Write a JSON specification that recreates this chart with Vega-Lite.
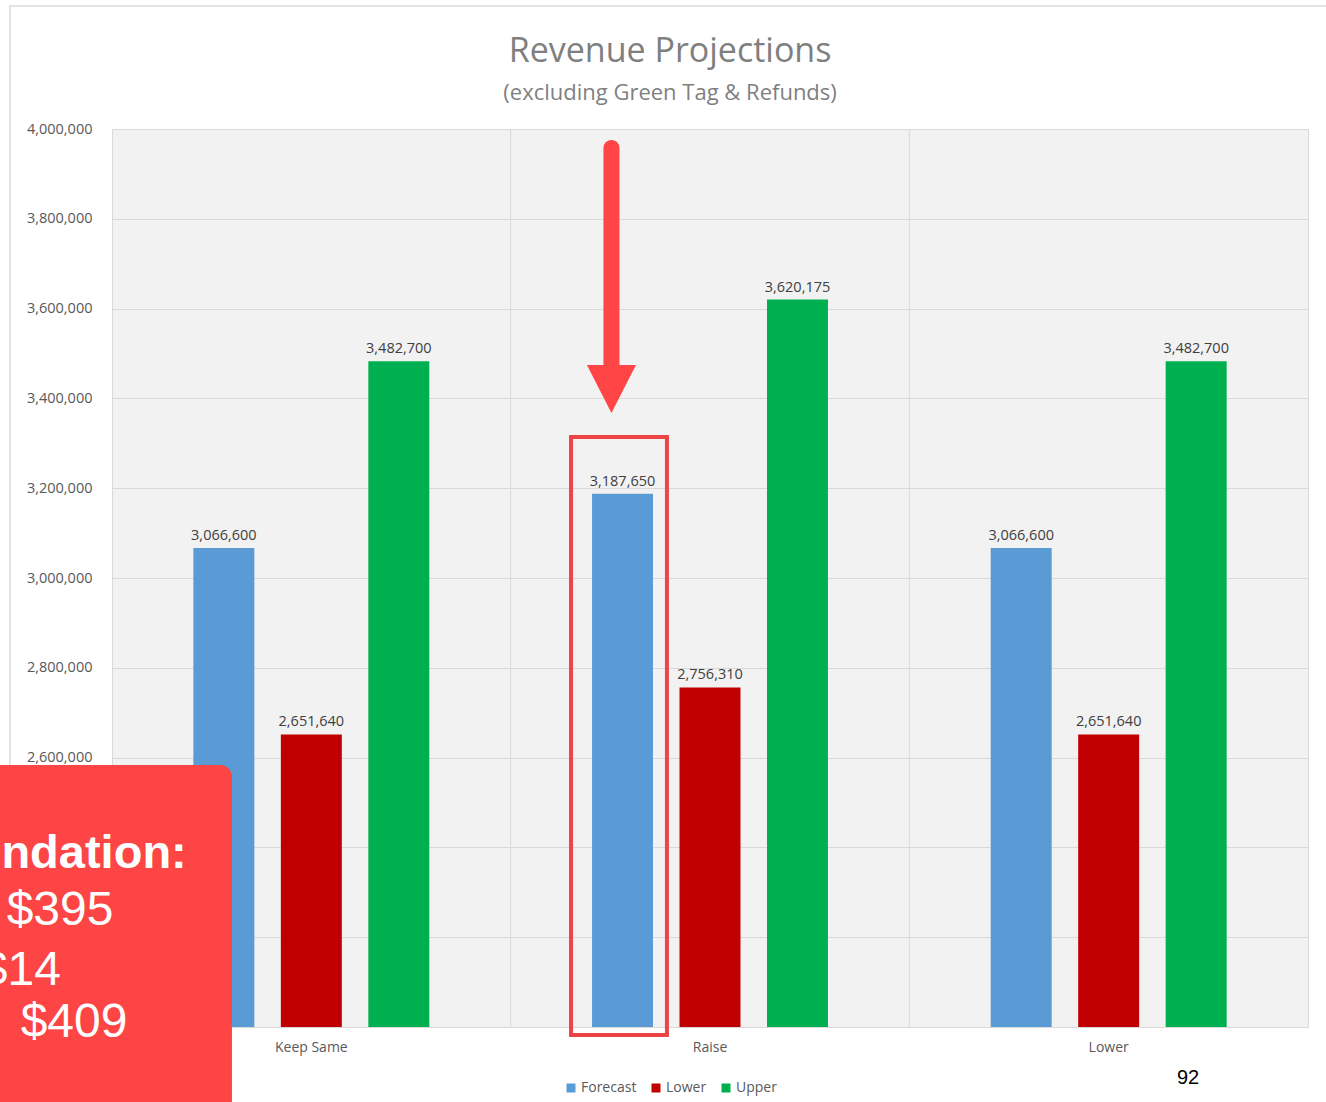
{
  "$schema": "https://vega.github.io/schema/vega-lite/v6.json",
  "width": 1196,
  "height": 898,
  "autosize": {"type": "none"},
  "padding": {"left": 112, "top": 129, "right": 18, "bottom": 75},
  "background": "white",
  "config": {
    "view": {"fill": "#f2f2f2", "stroke": "#d9d9d9", "strokeWidth": 1},
    "font": "Open Sans"
  },
  "datasets": {
    "revenue": [
      {"scenario": "Keep Same", "series": "Forecast", "revenue": 3066600},
      {"scenario": "Keep Same", "series": "Lower", "revenue": 2651640},
      {"scenario": "Keep Same", "series": "Upper", "revenue": 3482700},
      {"scenario": "Raise", "series": "Forecast", "revenue": 3187650},
      {"scenario": "Raise", "series": "Lower", "revenue": 2756310},
      {"scenario": "Raise", "series": "Upper", "revenue": 3620175},
      {"scenario": "Lower", "series": "Forecast", "revenue": 3066600},
      {"scenario": "Lower", "series": "Lower", "revenue": 2651640},
      {"scenario": "Lower", "series": "Upper", "revenue": 3482700}
    ]
  },
  "resolve": {"scale": {"x": "independent", "y": "independent"}},
  "layer": [
    {
      "data": {"values": [{}]},
      "layer": [
        {
          "mark": {"type": "rect", "fill": "transparent", "stroke": "#d9d9d9", "strokeWidth": 1.5},
          "encoding": {
            "x": {"datum": -0.0853, "type": "quantitative", "scale": {"domain": [0, 1]}, "axis": null},
            "x2": {"datum": 1.2},
            "y": {"datum": 4273900, "type": "quantitative", "scale": {"domain": [2000000, 4000000], "nice": false, "zero": false}, "axis": null},
            "y2": {"datum": 1700000}
          }
        },
        {
          "mark": {"type": "rule", "stroke": "#d9d9d9", "strokeWidth": 1},
          "encoding": {
            "x": {"datum": 0.33333, "type": "quantitative", "scale": {"domain": [0, 1]}, "axis": null},
            "y": {"datum": 2000000, "type": "quantitative", "scale": {"domain": [2000000, 4000000], "nice": false, "zero": false}, "axis": null},
            "y2": {"datum": 4000000}
          }
        },
        {
          "mark": {"type": "rule", "stroke": "#d9d9d9", "strokeWidth": 1},
          "encoding": {
            "x": {"datum": 0.66667, "type": "quantitative", "scale": {"domain": [0, 1]}, "axis": null},
            "y": {"datum": 2000000, "type": "quantitative", "scale": {"domain": [2000000, 4000000], "nice": false, "zero": false}, "axis": null},
            "y2": {"datum": 4000000}
          }
        },
        {
          "mark": {"type": "text", "align": "center", "baseline": "alphabetic", "font": "Open Sans", "fontSize": 34, "fill": "#7f7f7f", "text": "Revenue Projections"},
          "encoding": {
            "x": {"datum": 0.4666, "type": "quantitative", "scale": {"domain": [0, 1]}, "axis": null},
            "y": {"datum": 4149200, "type": "quantitative", "scale": {"domain": [2000000, 4000000], "nice": false, "zero": false}, "axis": null}
          }
        },
        {
          "mark": {"type": "text", "align": "center", "baseline": "alphabetic", "font": "Open Sans", "fontSize": 22, "fill": "#7f7f7f", "text": "(excluding Green Tag & Refunds)"},
          "encoding": {
            "x": {"datum": 0.4666, "type": "quantitative", "scale": {"domain": [0, 1]}, "axis": null},
            "y": {"datum": 4064600, "type": "quantitative", "scale": {"domain": [2000000, 4000000], "nice": false, "zero": false}, "axis": null}
          }
        }
      ]
    },
    {
      "data": {"name": "revenue"},
      "encoding": {
        "x": {
          "field": "scenario",
          "type": "nominal",
          "sort": ["Keep Same", "Raise", "Lower"],
          "scale": {"paddingInner": 0, "paddingOuter": 0},
          "axis": {
            "title": null,
            "labelAngle": 0,
            "ticks": false,
            "domain": true,
            "domainColor": "#d9d9d9",
            "labelFont": "Open Sans",
            "labelFontSize": 14,
            "labelColor": "#595959",
            "labelPadding": 13
          }
        },
        "xOffset": {
          "field": "series",
          "type": "nominal",
          "sort": ["Forecast", "Lower", "Upper"],
          "scale": {"paddingInner": 0.303, "paddingOuter": 0.93}
        },
        "y": {
          "field": "revenue",
          "type": "quantitative",
          "scale": {"domain": [2000000, 4000000], "nice": false, "zero": false},
          "axis": {
            "title": null,
            "values": [2000000, 2200000, 2400000, 2600000, 2800000, 3000000, 3200000, 3400000, 3600000, 3800000, 4000000],
            "format": ",d",
            "ticks": false,
            "domain": false,
            "grid": true,
            "gridColor": "#d9d9d9",
            "gridWidth": 1,
            "labelFont": "Open Sans",
            "labelFontSize": 14.5,
            "labelColor": "#595959",
            "labelPadding": 20
          }
        }
      },
      "layer": [
        {
          "mark": {"type": "bar"},
          "encoding": {
            "y2": {"datum": 2000000},
            "color": {
              "field": "series",
              "type": "nominal",
              "sort": ["Forecast", "Lower", "Upper"],
              "scale": {"domain": ["Forecast", "Lower", "Upper"], "range": ["#5B9BD5", "#C00000", "#00B050"]},
              "legend": {
                "title": null,
                "orient": "none",
                "direction": "horizontal",
                "legendX": 452,
                "legendY": 952,
                "symbolType": "square",
                "symbolSize": 81,
                "symbolStrokeWidth": 0,
                "labelFont": "Open Sans",
                "labelFontSize": 14,
                "labelColor": "#595959",
                "labelOffset": 3,
                "columnPadding": 12
              }
            }
          }
        },
        {
          "mark": {"type": "text", "baseline": "bottom", "dy": -5, "font": "Open Sans", "fontSize": 14.5, "fill": "#404040"},
          "encoding": {
            "text": {"field": "revenue", "type": "quantitative", "format": ",d"}
          }
        }
      ]
    },
    {
      "data": {"values": [{}]},
      "layer": [
        {
          "mark": {"type": "rule", "stroke": "#FF4545", "strokeWidth": 16, "strokeCap": "round"},
          "encoding": {
            "x": {"datum": 0.4176, "type": "quantitative", "scale": {"domain": [0, 1]}, "axis": null},
            "y": {"datum": 3957700, "type": "quantitative", "scale": {"domain": [2000000, 4000000], "nice": false, "zero": false}, "axis": null},
            "y2": {"datum": 3463300}
          }
        },
        {
          "mark": {"type": "point", "filled": true, "fill": "#FF4545", "opacity": 1, "size": 2401, "shape": "M-1,-0.98L1,-0.98L0,0.98Z"},
          "encoding": {
            "x": {"datum": 0.4176, "type": "quantitative", "scale": {"domain": [0, 1]}, "axis": null},
            "y": {"datum": 3420900, "type": "quantitative", "scale": {"domain": [2000000, 4000000], "nice": false, "zero": false}, "axis": null}
          }
        },
        {
          "mark": {"type": "rect", "fill": "transparent", "stroke": "#EE4444", "strokeWidth": 4},
          "encoding": {
            "x": {"datum": 0.3838, "type": "quantitative", "scale": {"domain": [0, 1]}, "axis": null},
            "x2": {"datum": 0.464},
            "y": {"datum": 3314000, "type": "quantitative", "scale": {"domain": [2000000, 4000000], "nice": false, "zero": false}, "axis": null},
            "y2": {"datum": 1982200}
          }
        },
        {
          "mark": {"type": "rect", "fill": "#FD4545", "cornerRadius": 12},
          "encoding": {
            "x": {"datum": -0.2, "type": "quantitative", "scale": {"domain": [0, 1]}, "axis": null},
            "x2": {"datum": 0.1003},
            "y": {"datum": 2583500, "type": "quantitative", "scale": {"domain": [2000000, 4000000], "nice": false, "zero": false}, "axis": null},
            "y2": {"datum": 1700000}
          }
        },
        {
          "mark": {"type": "text", "align": "right", "baseline": "alphabetic", "font": "Liberation Sans", "fontSize": 47, "fontWeight": "bold", "fill": "white", "text": "Recommendation:"},
          "encoding": {
            "x": {"datum": 0.0625, "type": "quantitative", "scale": {"domain": [0, 1]}, "axis": null},
            "y": {"datum": 2354100, "type": "quantitative", "scale": {"domain": [2000000, 4000000], "nice": false, "zero": false}, "axis": null}
          }
        },
        {
          "mark": {"type": "text", "align": "right", "baseline": "alphabetic", "font": "Liberation Sans", "fontSize": 48, "fill": "white", "text": "$395"},
          "encoding": {
            "x": {"datum": 0.0012, "type": "quantitative", "scale": {"domain": [0, 1]}, "axis": null},
            "y": {"datum": 2227200, "type": "quantitative", "scale": {"domain": [2000000, 4000000], "nice": false, "zero": false}, "axis": null}
          }
        },
        {
          "mark": {"type": "text", "align": "right", "baseline": "alphabetic", "font": "Liberation Sans", "fontSize": 48, "fill": "white", "text": "$14"},
          "encoding": {
            "x": {"datum": -0.0427, "type": "quantitative", "scale": {"domain": [0, 1]}, "axis": null},
            "y": {"datum": 2093500, "type": "quantitative", "scale": {"domain": [2000000, 4000000], "nice": false, "zero": false}, "axis": null}
          }
        },
        {
          "mark": {"type": "text", "align": "right", "baseline": "alphabetic", "font": "Liberation Sans", "fontSize": 48, "fill": "white", "text": "$409"},
          "encoding": {
            "x": {"datum": 0.0129, "type": "quantitative", "scale": {"domain": [0, 1]}, "axis": null},
            "y": {"datum": 1977700, "type": "quantitative", "scale": {"domain": [2000000, 4000000], "nice": false, "zero": false}, "axis": null}
          }
        },
        {
          "mark": {"type": "text", "align": "center", "baseline": "alphabetic", "font": "Liberation Sans", "fontSize": 20, "fill": "black", "text": "92"},
          "encoding": {
            "x": {"datum": 0.8997, "type": "quantitative", "scale": {"domain": [0, 1]}, "axis": null},
            "y": {"datum": 1873100, "type": "quantitative", "scale": {"domain": [2000000, 4000000], "nice": false, "zero": false}, "axis": null}
          }
        }
      ]
    }
  ]
}
